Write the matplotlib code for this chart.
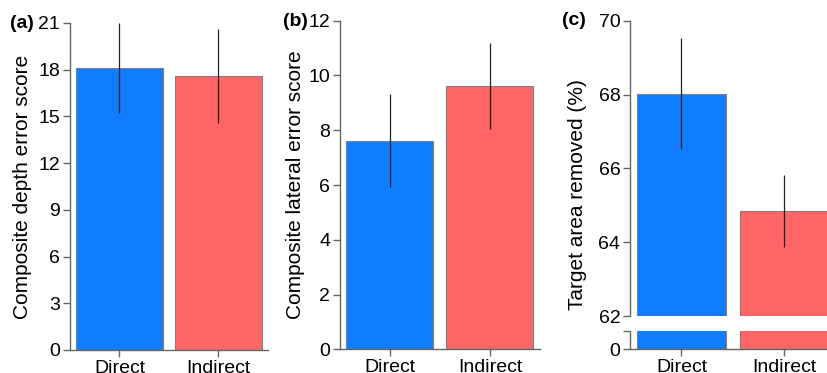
import matplotlib
matplotlib.use("Agg")
import matplotlib.pyplot as plt

plt.rcParams['font.family'] = ['Liberation Sans', 'DejaVu Sans']

# Data
groups = ["Direct", "Indirect"]
depth_mean = [18.1, 17.6]
depth_err = [2.9, 3.0]
lateral_mean = [7.62, 9.62]
lateral_err = [1.69, 1.56]
area_mean = [68.02, 64.85]
area_err = [1.5, 0.97]

BLUE = "#107CFF"
RED = "#FF6566"
COLORS = [BLUE, RED]
SPINE = "#666666"
FS = 14
FS_LABEL = 15

fig = plt.figure(figsize=(8.27, 3.73), dpi=100)


def style_axes(ax):
    for s in ["top", "right"]:
        ax.spines[s].set_visible(False)
    for s in ["left", "bottom"]:
        ax.spines[s].set_color(SPINE)
        ax.spines[s].set_linewidth(1.0)
    ax.tick_params(direction="out", length=5, width=1.0, color=SPINE,
                   labelsize=FS, pad=2)


def draw_bars(ax, means, errs):
    x = range(len(groups))
    ax.bar(x, means, width=0.87, color=COLORS, edgecolor="#808080",
           linewidth=0.8, zorder=2)
    ax.errorbar(x, means, yerr=errs, fmt="none", ecolor="#222222",
                elinewidth=0.9, capsize=0, zorder=3)
    ax.set_xlim(-0.5, 1.5)
    ax.set_xticks(list(x))
    ax.set_xticklabels(groups)


# --- (a) depth error ---
ax1 = fig.add_axes([0.0846, 0.0617, 0.2394, 0.8767])
draw_bars(ax1, depth_mean, depth_err)
ax1.set_ylim(0, 21)
ax1.set_yticks(range(0, 22, 3))
style_axes(ax1)
ax1.set_ylabel("Composite depth error score", fontsize=FS_LABEL)
ax1.yaxis.set_label_coords(-0.19, 0.5)

# --- (b) lateral error ---
ax2 = fig.add_axes([0.4111, 0.0635, 0.2418, 0.881])
draw_bars(ax2, lateral_mean, lateral_err)
ax2.set_ylim(0, 12)
ax2.set_yticks(range(0, 13, 2))
style_axes(ax2)
ax2.set_ylabel("Composite lateral error score", fontsize=FS_LABEL)
ax2.yaxis.set_label_coords(-0.175, 0.5)

# --- (c) target area removed, broken axis ---
ax3 = fig.add_axes([0.7618, 0.1528, 0.249, 0.7917])
draw_bars(ax3, area_mean, area_err)
ax3.set_ylim(62, 70)
ax3.set_yticks([62, 64, 66, 68, 70])
style_axes(ax3)
ax3.spines["bottom"].set_visible(False)
ax3.tick_params(axis="x", bottom=False, labelbottom=False)
ax3.set_ylabel("Target area removed (%)", fontsize=FS_LABEL)
ax3.yaxis.set_label_coords(-0.21, 0.41)

ax3b = fig.add_axes([0.7618, 0.0635, 0.249, 0.049])
ax3b.bar(range(len(groups)), area_mean, width=0.87, color=COLORS,
         edgecolor="#808080", linewidth=0.8, zorder=2)
ax3b.set_xlim(-0.5, 1.5)
ax3b.set_ylim(0, 1)
ax3b.set_yticks([0, 1])
ax3b.set_yticklabels(["0", ""])
ax3b.set_xticks(range(len(groups)))
ax3b.set_xticklabels(groups)
style_axes(ax3b)

# panel labels
fig.text(0.012, 0.938, "(a)", fontsize=FS, fontweight="bold", va="center")
fig.text(0.342, 0.943, "(b)", fontsize=FS, fontweight="bold", va="center")
fig.text(0.6796, 0.946, "(c)", fontsize=FS, fontweight="bold", va="center")

fig.savefig("out.png", dpi=100)
